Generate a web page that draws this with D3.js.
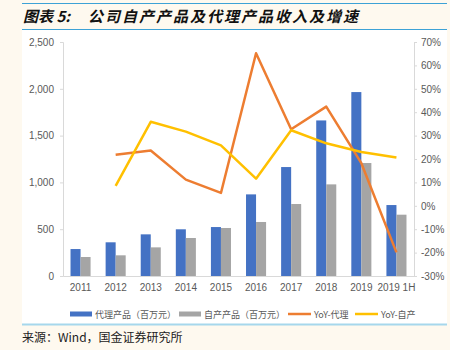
<!DOCTYPE html>
<html><head><meta charset="utf-8">
<script src="https://cdn.jsdelivr.net/npm/d3@7"></script>
<style>
html,body{margin:0;padding:0;background:#FEF9EF;}
svg{display:block;}
</style></head>
<body>
<svg id="c" width="450" height="350"></svg>
<script>
const categories = ["2011","2012","2013","2014","2015","2016","2017","2018","2019","2019 1H"];
const agencyRevenue = [288, 360, 445, 499, 523, 872, 1164, 1662, 1965, 758];
const ownRevenue = [203, 221, 306, 406, 513, 577, 769, 979, 1207, 655];
const yoyAgency = [null, 21.8, 23.6, 11.2, 5.5, 65.2, 32.7, 42.4, 18.2, -19.9];
const yoyOwn = [null, 8.5, 35.9, 31.7, 25.8, 11.6, 32.3, 26.7, 23.0, 20.6];
const leftTicks = [0, 500, 1000, 1500, 2000, 2500];
const rightTicks = [-30, -20, -10, 0, 10, 20, 30, 40, 50, 60, 70];
const seriesNames = ["代理产品（百万元）", "自产产品（百万元）", "YoY-代理", "YoY-自产"];
const colors = ["#4472C4", "#A5A5A5", "#ED7D31", "#FFC000"];

const svg = d3.select("#c");
// white panel
svg.append("rect").attr("x",22).attr("y",30).attr("width",425).attr("height",294).attr("fill","#fff");
svg.append("line").attr("x1",22).attr("x2",447).attr("y1",3.5).attr("y2",3.5).attr("stroke","#3DA2D6").attr("stroke-width",1.2);
svg.append("line").attr("x1",22).attr("x2",447).attr("y1",29.5).attr("y2",29.5).attr("stroke","#3DA2D6").attr("stroke-width",1.2);
svg.append("line").attr("x1",22).attr("x2",447).attr("y1",324.5).attr("y2",324.5).attr("stroke","#A6D7EC").attr("stroke-width",2);

const title = svg.append("text").attr("y",22).attr("font-family","'Noto Sans CJK SC'").attr("font-weight","bold").attr("font-style","italic").attr("font-size",15).attr("fill","#111");
title.append("tspan").attr("x",23).text("图表 5:");
title.append("tspan").attr("x",88).attr("textLength",270).attr("lengthAdjust","spacing").text("公司自产产品及代理产品收入及增速");

svg.append("text").attr("x",22).attr("y",342).attr("font-family","'Noto Sans CJK SC'").attr("font-size",12).attr("fill","#222").text("来源：Wind，国金证券研究所");

const L = 63, R = 414, T = 42, B = 276;
const x = d3.scaleBand().domain(categories).range([L,R]);
const y = d3.scaleLinear().domain([0,2500]).range([B,T]);
const y2 = d3.scaleLinear().domain([-30,70]).range([B,T]);
const bw = x.bandwidth()/3.5;

const axisColor = "#D9D9D9", labColor = "#595959";
const la = svg.append("g").attr("transform",`translate(${L},0)`).call(d3.axisLeft(y).tickValues(leftTicks).tickSize(3).tickFormat(d3.format(",")));
const ra = svg.append("g").attr("transform",`translate(${R},0)`).call(d3.axisRight(y2).tickValues(rightTicks).tickSize(3).tickFormat(d=>d+"%"));
[la,ra].forEach(g=>{
  g.select(".domain").attr("stroke",axisColor);
  g.selectAll(".tick line").attr("stroke",axisColor);
  g.selectAll(".tick text").attr("fill",labColor).attr("font-family","'Liberation Sans', Arial").attr("font-size",10);
});
la.selectAll(".tick text").attr("x",-9);
ra.selectAll(".tick text").attr("x",7);

const xa = svg.append("g").attr("transform",`translate(0,${B})`).call(d3.axisBottom(x).tickSize(0));
xa.select(".domain").attr("stroke",axisColor);
xa.selectAll(".tick text").attr("fill",labColor).attr("font-family","'Liberation Sans', Arial").attr("font-size",10).attr("dy","0.71em").attr("y",8);

const bars = svg.append("g");
bars.selectAll(".b1").data(categories).join("rect")
  .attr("x",d=>x(d)+x.bandwidth()/2-bw).attr("width",bw)
  .attr("y",(d,i)=>y(agencyRevenue[i])).attr("height",(d,i)=>B-y(agencyRevenue[i]))
  .attr("fill",colors[0]);
bars.selectAll(".b2").data(categories).join("rect")
  .attr("x",d=>x(d)+x.bandwidth()/2).attr("width",bw)
  .attr("y",(d,i)=>y(ownRevenue[i])).attr("height",(d,i)=>B-y(ownRevenue[i]))
  .attr("fill",colors[1]);

const cx = d=>x(d)+x.bandwidth()/2;
function drawLine(vals,color){
  const pts = categories.map((c,i)=>[c,vals[i]]).filter(p=>p[1]!==null);
  svg.append("path").datum(pts)
    .attr("d",d3.line().x(p=>cx(p[0])).y(p=>y2(p[1])))
    .attr("fill","none").attr("stroke",color).attr("stroke-width",2.5).attr("stroke-linejoin","round");
}
drawLine(yoyAgency,colors[2]);
drawLine(yoyOwn,colors[3]);

// legend
const lg = svg.append("g").attr("font-family","'Noto Sans CJK SC'").attr("font-size",9).attr("fill",labColor);
const items = [
  {x:70, w:22, type:"rect"},
  {x:179, w:22, type:"rect"},
  {x:288, w:23, type:"line"},
  {x:355, w:23, type:"line"}
];
items.forEach((it,i)=>{
  if(it.type==="rect") lg.append("rect").attr("x",it.x).attr("y",311.5).attr("width",it.w).attr("height",5).attr("fill",colors[i]);
  else lg.append("line").attr("x1",it.x).attr("x2",it.x+it.w).attr("y1",314).attr("y2",314).attr("stroke",colors[i]).attr("stroke-width",2.5);
  lg.append("text").attr("x",it.x+it.w+3).attr("y",317.5).attr("fill",labColor).text(seriesNames[i]);
});
</script>
</body></html>
